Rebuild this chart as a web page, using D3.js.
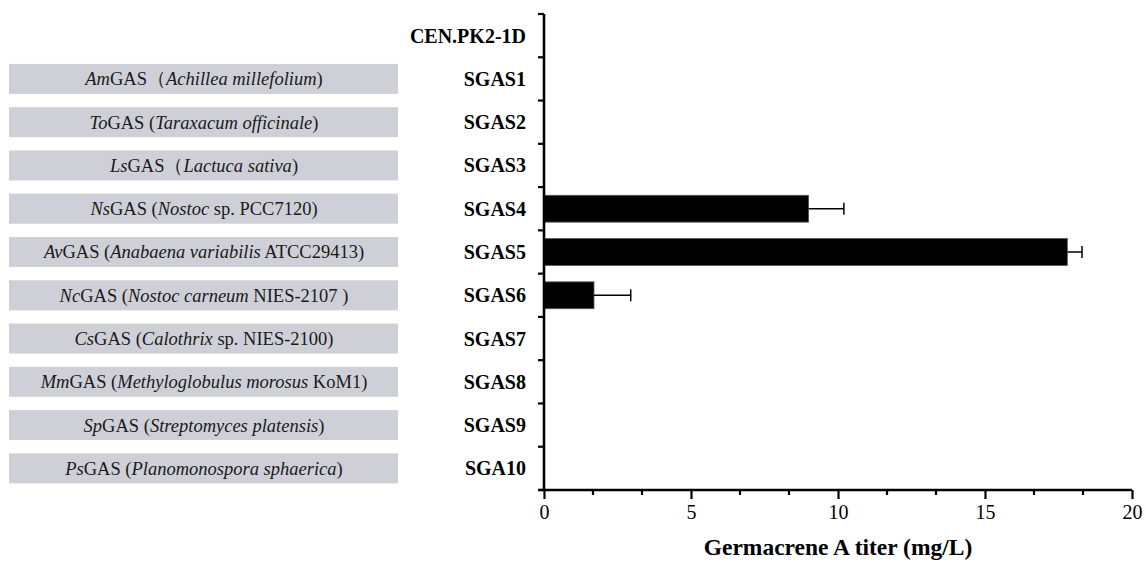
<!DOCTYPE html>
<html>
<head>
<meta charset="utf-8">
<script src="https://cdn.jsdelivr.net/npm/d3@7"></script>
<style>
  body { margin: 0; background: #fff; }
  text { font-family: "Liberation Serif", "Times New Roman", serif; }
</style>
</head>
<body>
<div id="chart"></div>
<script>
var width = 1146, height = 562;

// strains, top to bottom
var strains = ['CEN.PK2-1D', 'SGAS1', 'SGAS2', 'SGAS3', 'SGAS4', 'SGAS5',
               'SGAS6', 'SGAS7', 'SGAS8', 'SGAS9', 'SGA10'];
// enzyme carried by each strain (*...* = italic), none for the parent strain
var enzymes = [null,
  '*Am*GAS\uff08*Achillea millefolium*)',
  '*To*GAS (*Taraxacum officinale*)',
  '*Ls*GAS\uff08*Lactuca sativa*)',
  '*Ns*GAS (*Nostoc* sp. PCC7120)',
  '*Av*GAS (*Anabaena variabilis* ATCC29413)',
  '*Nc*GAS (*Nostoc carneum* NIES-2107 )',
  '*Cs*GAS (*Calothrix* sp. NIES-2100)',
  '*Mm*GAS (*Methyloglobulus morosus* KoM1)',
  '*Sp*GAS (*Streptomyces platensis*)',
  '*Ps*GAS (*Planomonospora sphaerica*)'];
var titers = [0, 0, 0, 0, 9.0, 17.8, 1.7, 0, 0, 0, 0];
var errors = [0, 0, 0, 0, 1.2, 0.5, 1.25, 0, 0, 0, 0];
var xTicks = [0, 5, 10, 15, 20];

var plotLeft = 544, plotRight = 1132, plotTop = 14, plotBottom = 490;

var x = d3.scaleLinear().domain([0, 20]).range([plotLeft, plotRight]);
var y = d3.scaleBand().domain(strains).range([plotTop, plotBottom]).paddingInner(0.38).paddingOuter(0.19);
var yRow = d3.scaleBand().domain(strains).range([plotTop, plotBottom]);
var mid = function(s) { return yRow(s) + yRow.bandwidth() / 2; };

var svg = d3.select('#chart').append('svg')
    .attr('width', width)
    .attr('height', height);

// grey enzyme boxes on the left
var rows = svg.append('g').selectAll('g.row')
  .data(strains.map(function(s, i) { return {strain: s, enzyme: enzymes[i]}; })
    .filter(function(d) { return d.enzyme; }))
  .enter().append('g')
  .classed('row', true)
  .attr('transform', function(d) { return 'translate(0,' + mid(d.strain) + ')'; });

rows.append('rect')
  .attr('x', 9)
  .attr('y', -15)
  .attr('width', 389)
  .attr('height', 30)
  .attr('fill', '#cfd0d7');

rows.append('text')
  .attr('x', 204)
  .attr('dy', '0.35em')
  .attr('text-anchor', 'middle')
  .style('font-size', '18.5px')
  .attr('fill', '#1a1a1a')
  .each(function(d) {
    var t = d3.select(this);
    d.enzyme.split('*').forEach(function(part, j) {
      if (!part) return;
      t.append('tspan')
        .style('font-style', j % 2 ? 'italic' : 'normal')
        .text(part);
    });
  });

// bars
var measured = strains.map(function(s, i) { return {strain: s, v: titers[i], e: errors[i]}; })
  .filter(function(d) { return d.v > 0; });

svg.append('g').selectAll('rect.bar')
  .data(measured)
  .enter().append('rect')
  .classed('bar', true)
  .attr('x', x(0))
  .attr('y', function(d) { return y(d.strain); })
  .attr('width', function(d) { return x(d.v) - x(0); })
  .attr('height', y.bandwidth())
  .attr('fill', '#000')
  .attr('stroke', '#555')
  .attr('stroke-width', 0.8);

// error bars
var errs = svg.append('g').selectAll('g.err')
  .data(measured.filter(function(d) { return d.e > 0; }))
  .enter().append('g')
  .classed('err', true)
  .attr('stroke', '#000')
  .attr('stroke-width', 1.5);

errs.append('line')
  .attr('x1', function(d) { return x(d.v); })
  .attr('x2', function(d) { return x(d.v + d.e); })
  .attr('y1', function(d) { return mid(d.strain); })
  .attr('y2', function(d) { return mid(d.strain); });

errs.append('line')
  .attr('x1', function(d) { return x(d.v + d.e); })
  .attr('x2', function(d) { return x(d.v + d.e); })
  .attr('y1', function(d) { return mid(d.strain) - 6; })
  .attr('y2', function(d) { return mid(d.strain) + 6; });

// y axis: boundary ticks + bold strain labels
var yAxis = svg.append('g');
yAxis.append('line')
  .attr('x1', plotLeft).attr('x2', plotLeft)
  .attr('y1', plotTop).attr('y2', plotBottom)
  .attr('stroke', '#000').attr('stroke-width', 2.6);

yAxis.selectAll('line.tick')
  .data(strains.concat(['end']))
  .enter().append('line')
  .classed('tick', true)
  .attr('x1', plotLeft - 6).attr('x2', plotLeft)
  .attr('y1', function(d, i) { return plotTop + i * yRow.step(); })
  .attr('y2', function(d, i) { return plotTop + i * yRow.step(); })
  .attr('stroke', '#000').attr('stroke-width', 2.2);

yAxis.selectAll('text')
  .data(strains)
  .enter().append('text')
  .attr('x', plotLeft - 18)
  .attr('y', mid)
  .attr('dy', '0.35em')
  .attr('text-anchor', 'end')
  .style('font-size', '20px')
  .style('font-weight', 'bold')
  .text(function(d) { return d; });

// x axis with minor ticks in thirds
var xAxis = d3.axisBottom(x)
  .tickValues(xTicks)
  .tickSize(9)
  .tickPadding(6)
  .tickFormat(d3.format('d'));

var gx = svg.append('g')
  .attr('transform', 'translate(0,' + plotBottom + ')')
  .call(xAxis);
gx.select('.domain').attr('stroke-width', 2.6).attr('d', 'M' + (plotLeft - 6) + ',0H' + plotRight);
gx.selectAll('.tick line').attr('stroke-width', 2.2);
gx.selectAll('.tick text')
  .style('font-family', '"Liberation Serif", serif')
  .style('font-size', '20px');

var minor = d3.range(0, 20, 5).reduce(function(acc, m) {
  return acc.concat([m + 5 / 3, m + 10 / 3]);
}, []);
gx.selectAll('line.minor')
  .data(minor)
  .enter().append('line')
  .classed('minor', true)
  .attr('x1', function(d) { return x(d); })
  .attr('x2', function(d) { return x(d); })
  .attr('y1', 0).attr('y2', 5)
  .attr('stroke', '#000').attr('stroke-width', 2.2);

svg.append('text')
  .attr('x', (plotLeft + plotRight) / 2)
  .attr('y', 555)
  .attr('text-anchor', 'middle')
  .style('font-size', '23.5px')
  .style('font-weight', 'bold')
  .text('Germacrene A titer (mg/L)');
</script>
</body>
</html>
